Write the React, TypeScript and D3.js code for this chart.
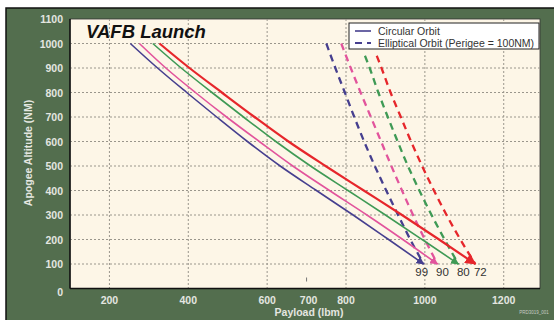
import * as d3 from "d3";

const W = 554;
const H = 320;

// inclination labels (deg) for each curve
const inclinations = ["99", "90", "80", "72"];
const colors = ["#463f8f", "#e2549c", "#3f9a55", "#e6262b"];

const circAlt = [1000, 900, 800, 700, 600, 500, 400, 300, 200, 100];
const circ99 = [253, 322, 396, 472, 550, 633, 725, 818, 908, 997];
const circ90 = [276, 343, 418, 497, 580, 665, 758, 853, 944, 1032];
const circ80 = [310, 382, 460, 540, 622, 710, 805, 900, 993, 1085];
const circ72 = [327, 403, 485, 568, 654, 748, 845, 942, 1036, 1128];

const ellAltA = [1000, 900, 800, 700, 600, 500, 400, 300, 200, 100];
const ellAltB = [950, 900, 800, 700, 600, 500, 400, 300, 200, 100];
const ell99 = [750, 773, 797, 821, 846, 873, 902, 932, 963, 997];
const ell90 = [788, 812, 837, 863, 889, 915, 942, 970, 1000, 1032];
const ell80 = [848, 860, 882, 906, 931, 957, 986, 1017, 1050, 1085];
const ell72 = [878, 890, 913, 939, 965, 993, 1023, 1055, 1090, 1128];

const yTicks = [0, 100, 200, 300, 400, 500, 600, 700, 800, 900, 1000, 1100];
const xGrid = [200, 400, 600, 800, 1000, 1200];
const xTickLabels = [200, 400, 600, 700, 800, 1000, 1200];

const left = 70, right = 540, top = 19, bottom = 288.5;

export default function App() {
  const x = d3.scaleLinear().domain([100, 1292]).range([left, right]);
  const y = d3.scaleLinear().domain([0, 1100]).range([bottom, top]);

  const circ = [circ99, circ90, circ80, circ72];
  const ell = [ell99, ell90, ell80, ell72];
  const ellAlt = [ellAltA, ellAltA, ellAltB, ellAltB];

  const line = d3
    .line<[number, number]>()
    .x(d => x(d[0]))
    .y(d => y(d[1]))
    .curve(d3.curveMonotoneY);

  const font = "'Liberation Sans', Arial, sans-serif";

  return (
    <svg
      width={W}
      height={H}
      style={{ position: "absolute", left: 0, top: 0 }}
      fontFamily={font}
    >
      <defs>
        {colors.map((c, i) => (
          <marker
            key={i}
            id={`arr${i}`}
            viewBox="0 0 10 10"
            refX="9"
            refY="5"
            markerWidth="5"
            markerHeight="5"
            orient="auto"
          >
            <path d="M0,0 L10,5 L0,10 z" fill={c} />
          </marker>
        ))}
      </defs>
      <rect x={0} y={0} width={W} height={H} fill="#fff" />
      <rect x={6} y={8} width={W} height={H} fill="#536e4e" stroke="#111" strokeWidth={1.5} />
      <rect x={left} y={top} width={right - left} height={bottom - top} fill="#fdf6e7" stroke="#333" strokeWidth={0.8} />

      {/* grid */}
      {yTicks.slice(1, -1).map(t => (
        <line key={t} x1={left} x2={right} y1={y(t)} y2={y(t)} stroke="#9a968c" strokeWidth={1} strokeDasharray="2,2" />
      ))}
      {xGrid.map(t => (
        <line key={t} x1={x(t)} x2={x(t)} y1={top} y2={bottom} stroke="#9a968c" strokeWidth={1} strokeDasharray="2,2" />
      ))}
      <line x1={x(700)} x2={x(700)} y1={bottom - 11} y2={bottom - 7} stroke="#777" strokeWidth={1} />

      {/* axis lines */}
      <line x1={left} x2={left} y1={top} y2={bottom} stroke="#111" strokeWidth={1.5} />
      <line x1={left} x2={right} y1={bottom} y2={bottom} stroke="#111" strokeWidth={1.5} />

      {/* elliptical (dashed) */}
      {ell.map((vals, i) => (
        <path
          key={`e${i}`}
          d={line(vals.map((v, j) => [v, ellAlt[i][j]] as [number, number])) || ""}
          fill="none"
          stroke={colors[i]}
          strokeWidth={2.3}
          strokeDasharray="7,5"
        />
      ))}

      {/* circular (solid) */}
      {circ.map((vals, i) => (
        <path
          key={`c${i}`}
          d={line(vals.map((v, j) => [v, circAlt[j]] as [number, number])) || ""}
          fill="none"
          stroke={colors[i]}
          strokeWidth={i === 3 ? 2.2 : 1.6}
          markerEnd={`url(#arr${i})`}
        />
      ))}

      {/* inclination labels */}
      {circ.map((vals, i) => (
        <text
          key={`l${i}`}
          x={x(vals[vals.length - 1]) + (i === 0 ? -2 : 5)}
          y={y(100) + 12}
          textAnchor="middle"
          fontSize={11.5}
          fill="#333"
        >
          {inclinations[i]}
        </text>
      ))}

      {/* title */}
      <text x={86} y={38} fontSize={18.5} fontWeight="bold" fontStyle="italic" fill="#111">
        VAFB Launch
      </text>

      {/* legend */}
      <rect x={349} y={23} width={190} height={26} fill="#fff" stroke="#222" strokeWidth={1} />
      <line x1={355} x2={371} y1={31} y2={31} stroke={colors[0]} strokeWidth={1.6} />
      <line x1={355} x2={371} y1={43} y2={43} stroke={colors[0]} strokeWidth={2} strokeDasharray="7,5" />
      <text x={378} y={35} fontSize={10.5} fill="#333">Circular Orbit</text>
      <text x={378} y={47} fontSize={10.5} fill="#333">Elliptical Orbit (Perigee = 100NM)</text>

      {/* y tick labels */}
      {yTicks.map(t => (
        <text
          key={t}
          x={63}
          y={y(t) + 4 + (t === 0 ? 3 : 0)}
          textAnchor="end"
          fontSize={10.5}
          fontWeight="bold"
          fill="#e4e6e0"
        >
          {t}
        </text>
      ))}

      {/* x tick labels */}
      {xTickLabels.map(t => (
        <text
          key={t}
          x={x(t) + (t === 700 ? 2 : 0)}
          y={304}
          textAnchor="middle"
          fontSize={10.5}
          fontWeight="bold"
          fill="#e4e6e0"
        >
          {t}
        </text>
      ))}

      {/* axis titles */}
      <text x={309} y={316} textAnchor="middle" fontSize={10.5} fontWeight="bold" fill="#e4e6e0">
        Payload (lbm)
      </text>
      <text
        transform="translate(32,153) rotate(-90)"
        textAnchor="middle"
        fontSize={10.5}
        fontWeight="bold"
        fill="#e4e6e0"
      >
        Apogee Altitude (NM)
      </text>
      <text x={534} y={314} textAnchor="middle" fontSize={4.5} fill="#c8ccc4">PRD3019_001</text>
    </svg>
  );
}
